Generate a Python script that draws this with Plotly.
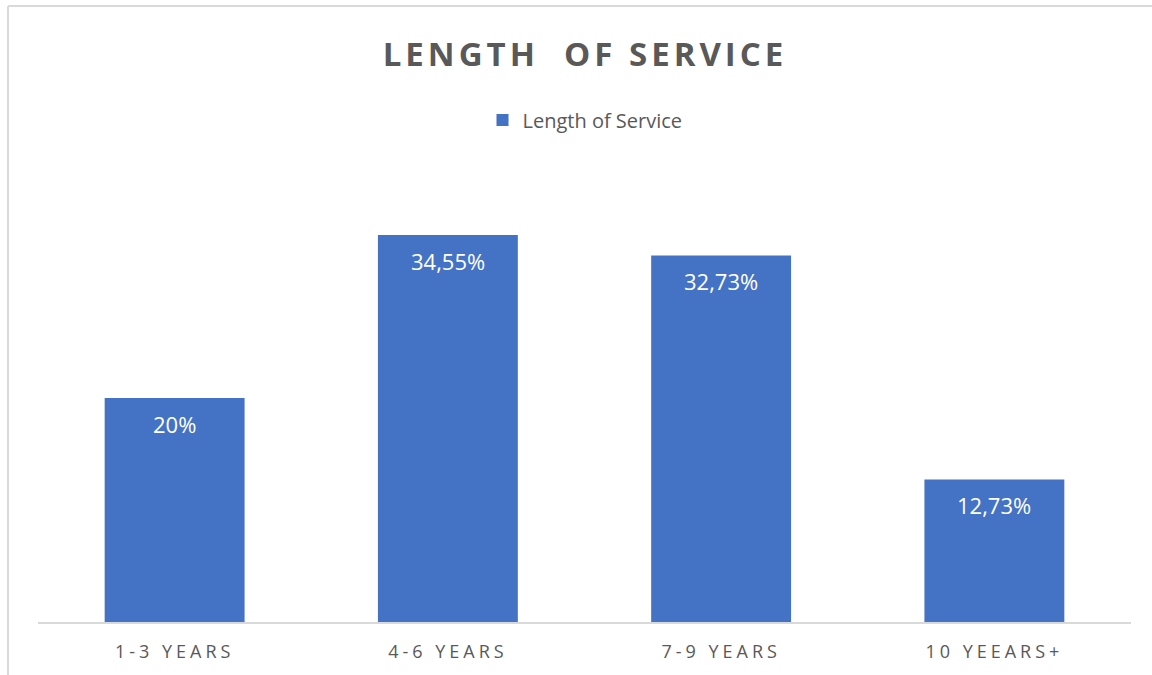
import plotly.graph_objects as go

categories = ["1-3 YEARS", "4-6 YEARS", "7-9 YEARS", "10 YEEARS+"]
values = [20, 34.55, 32.73, 12.73]
labels = ["20%", "34,55%", "32,73%", "12,73%"]
series_name = "Length of Service"
title_text = "LENGTH  OF SERVICE"

BLUE = "#4472C4"
GREY = "#595959"
FONT = "Open Sans"

W, H = 1152, 675
L, R, T, B = 38, 21, 174, 53
plot_w = W - L - R
plot_h = H - T - B

def px_x(px):
    return (px - L) / plot_w

def px_y(py):
    return (H - B - py) / plot_h

fig = go.Figure()
fig.add_trace(go.Bar(
    x=categories, y=values, name=series_name,
    marker=dict(color=BLUE, line=dict(width=0)),
    showlegend=True,
))

for c, v, t in zip(categories, values, labels):
    fig.add_annotation(x=c, y=v, text=t, showarrow=False, xref="x", yref="y",
                       yanchor="middle", yshift=-26,
                       font=dict(family=FONT, size=22, color="white"))

# chart border (top and left visible)
fig.add_shape(type="line", xref="paper", yref="paper",
              x0=px_x(8), x1=px_x(1160), y0=px_y(6), y1=px_y(6),
              line=dict(color="#D9D9D9", width=2))
fig.add_shape(type="line", xref="paper", yref="paper",
              x0=px_x(8), x1=px_x(8), y0=px_y(6), y1=px_y(690),
              line=dict(color="#D9D9D9", width=2))

fig.update_layout(
    width=W, height=H,
    margin=dict(l=L, r=R, t=T, b=B, pad=0),
    paper_bgcolor="white", plot_bgcolor="white",
    bargap=0.488,
    title=dict(text="<b>" + title_text + "</b>", x=px_x(585), xref="paper", xanchor="center",
               y=1 - 54 / H, yref="container", yanchor="middle",
               font=dict(family=FONT, size=33, color=GREY)),
    legend=dict(orientation="h", x=px_x(585), xanchor="center", y=px_y(120), yanchor="middle",
                font=dict(family=FONT, size=20, color=GREY), itemsizing="constant",
                bgcolor="rgba(0,0,0,0)"),
    xaxis=dict(showline=True, linecolor="#D9D9D9", linewidth=2, showgrid=False,
               ticks="outside", ticklen=12, tickcolor="rgba(0,0,0,0)",
               tickfont=dict(family=FONT, size=18, color=GREY), fixedrange=True),
    yaxis=dict(range=[0, 40], showgrid=False, showticklabels=False, zeroline=False,
               showline=False, fixedrange=True),
)

css = """
document.body.style.margin='0';
document.body.style.overflow='hidden';
var s=document.createElement('style');
s.innerHTML='.gtitle{letter-spacing:4px;white-space:pre;} .xtick text{letter-spacing:4px;}';
document.head.appendChild(s);
"""
fig.write_html("out.html", post_script=css, config={"displayModeBar": False})
